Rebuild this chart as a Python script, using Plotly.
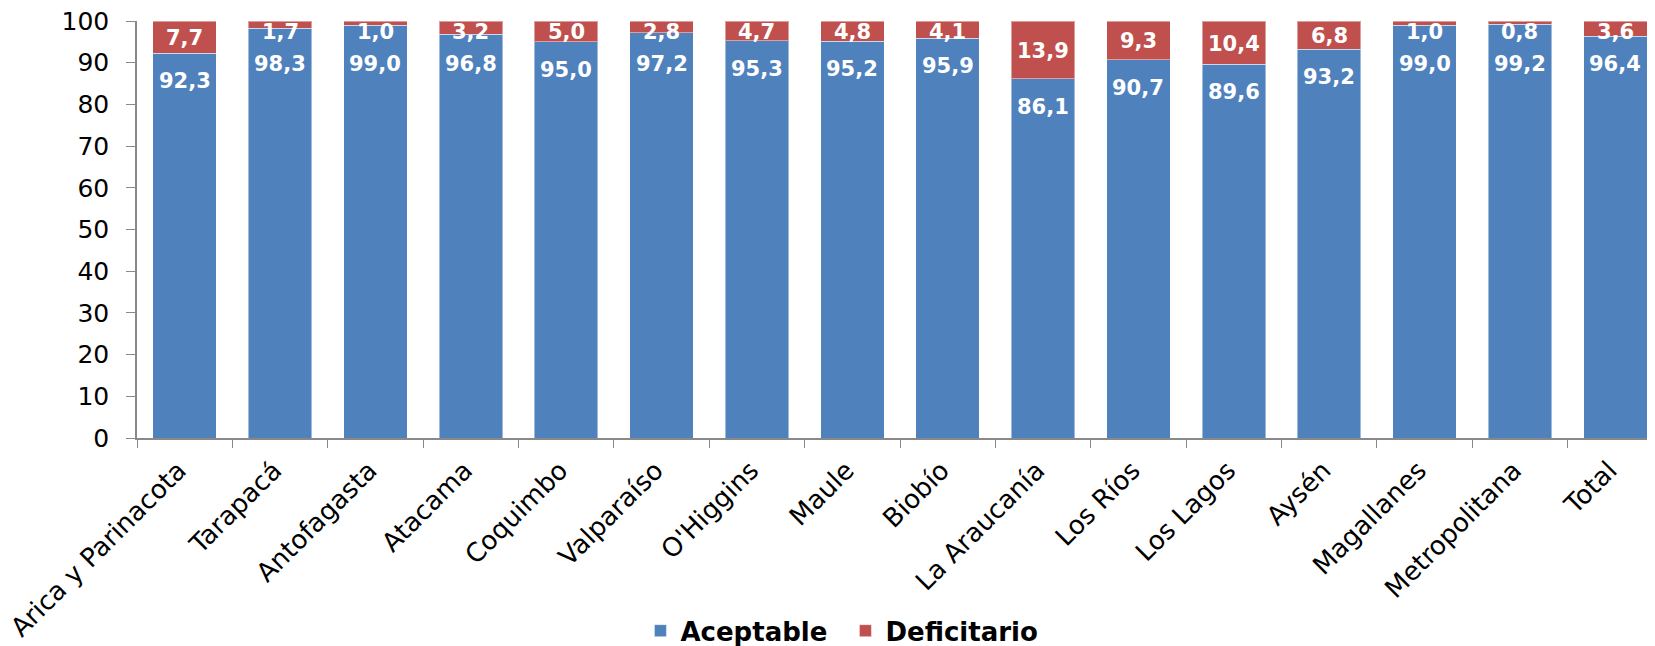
import plotly.graph_objects as go

categories = ["Arica y Parinacota", "Tarapacá", "Antofagasta", "Atacama", "Coquimbo",
              "Valparaíso", "O'Higgins", "Maule", "Biobío", "La Araucanía", "Los Ríos",
              "Los Lagos", "Aysén", "Magallanes", "Metropolitana", "Total"]
aceptable = [92.3, 98.3, 99.0, 96.8, 95.0, 97.2, 95.3, 95.2, 95.9, 86.1, 90.7, 89.6, 93.2, 99.0, 99.2, 96.4]
deficitario = [7.7, 1.7, 1.0, 3.2, 5.0, 2.8, 4.7, 4.8, 4.1, 13.9, 9.3, 10.4, 6.8, 1.0, 0.8, 3.6]
y_ticks = [0, 10, 20, 30, 40, 50, 60, 70, 80, 90, 100]

BLUE = "#4F81BD"
RED = "#C0504D"
FONT = "DejaVu Sans"

def fmt(v):
    return f"{v:.1f}".replace(".", ",")

fig = go.Figure()
fig.add_trace(go.Bar(x=categories, y=aceptable, name="Aceptable",
                     marker=dict(color=BLUE, line=dict(color="rgba(255,255,255,0.45)", width=1))))
fig.add_trace(go.Bar(x=categories, y=deficitario, name="Deficitario",
                     marker=dict(color=RED, line=dict(color="rgba(255,255,255,0.45)", width=1))))

lab_font = dict(family=FONT, size=21, color="white", weight="bold")
for c, a, d in zip(categories, aceptable, deficitario):
    fig.add_annotation(x=c, y=min(a, 96.4), yref="y", text=fmt(a), showarrow=False,
                       yanchor="middle", yshift=-28, font=lab_font)
    fig.add_annotation(x=c, y=min(a + d / 2, 97.6), yref="y", text=fmt(d), showarrow=False,
                       yanchor="middle", yshift=-1, font=lab_font)

fig.update_layout(
    width=1655, height=646,
    barmode="stack", bargap=0.335,
    plot_bgcolor="white", paper_bgcolor="white",
    margin=dict(l=129, r=0, t=13, b=216, autoexpand=False),
    font=dict(family=FONT, size=24, color="black"),
    showlegend=True,
    legend=dict(orientation="h", xref="container", yref="container", x=0.506, y=0.036,
                xanchor="center", yanchor="middle", itemwidth=30, entrywidth=160,
                font=dict(family=FONT, size=26, color="black", weight="bold"),
                traceorder="normal"),
    xaxis=dict(range=[-0.5, 15.5], tickangle=-45, showline=True, linecolor="#898989",
               linewidth=1.5, ticks="outside", ticklen=8, tickcolor="#898989",
               tickson="boundaries", showgrid=False, tickfont=dict(size=26),
               automargin=False, ticklabelshift=-6, ticklabelstandoff=5,
               ticklabeloverflow="allow"),
    yaxis=dict(range=[0, 100], tickvals=y_ticks, showline=True, linecolor="#898989",
               linewidth=1.5, ticks="outside", ticklen=9, tickcolor="#898989",
               showgrid=False, zeroline=False, tickfont=dict(size=25),
               ticklabelstandoff=12, automargin=False, ticklabeloverflow="allow"),
)

fig.write_html("out.html")
